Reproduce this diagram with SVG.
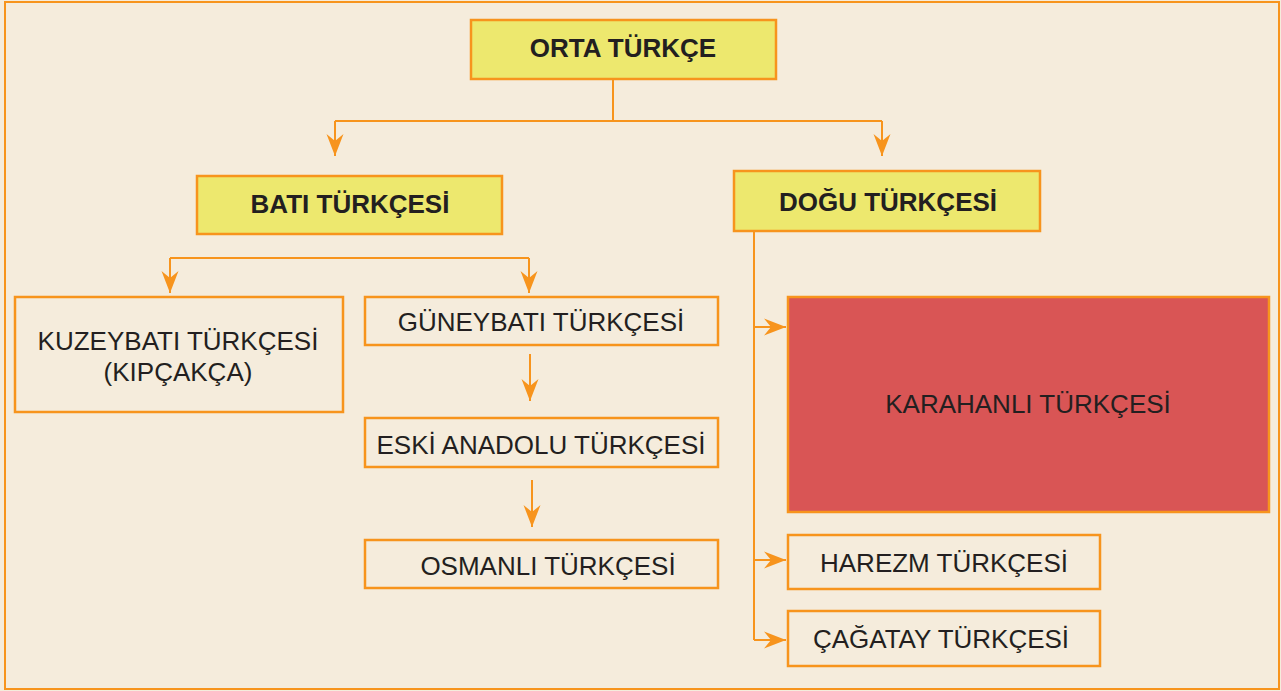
<svg xmlns="http://www.w3.org/2000/svg" width="1281" height="691" viewBox="0 0 1281 691">
<style>
.box{fill:none;stroke:#f7941d;stroke-width:2.5}
.yel{fill:#ede86e;stroke:#f7941d;stroke-width:2.5}
.red{fill:#d95555;stroke:#f7941d;stroke-width:2.5}
.con{fill:none;stroke:#f7941d;stroke-width:2}
text{font-family:"Liberation Sans",Arial,sans-serif;fill:#231f20;text-anchor:middle;font-size:26px}
.b{font-weight:bold}
</style>
<defs>
<marker id="ah" markerUnits="userSpaceOnUse" markerWidth="24" markerHeight="20" viewBox="-23 -10 24 20" refX="0" refY="0" orient="auto">
<path d="M0,0 L-22,-8.5 L-15,0 L-22,8.5 Z" fill="#f7941d"/>
</marker>
</defs>
<rect x="0" y="0" width="1281" height="691" fill="#f5ecdc"/>
<rect x="5" y="2" width="1274" height="687" fill="none" stroke="#f7941d" stroke-width="2"/>

<g id="connectors">
<path class="con" d="M613,79 V121"/>
<path class="con" d="M335,121 H882"/>
<path class="con" d="M335,121 V156" marker-end="url(#ah)"/>
<path class="con" d="M882,121 V156" marker-end="url(#ah)"/>
<path class="con" d="M170,258 H529"/>
<path class="con" d="M170,258 V293" marker-end="url(#ah)"/>
<path class="con" d="M529,258 V293" marker-end="url(#ah)"/>
<path class="con" d="M530,354 V401" marker-end="url(#ah)"/>
<path class="con" d="M532,480 V527" marker-end="url(#ah)"/>
<path class="con" d="M754,231 V640"/>
<path class="con" d="M754,327 H786" marker-end="url(#ah)"/>
<path class="con" d="M754,560 H786" marker-end="url(#ah)"/>
<path class="con" d="M754,640 H786" marker-end="url(#ah)"/>
</g>

<g id="orta"><rect class="yel" x="471" y="20" width="305" height="59"/><text class="b" x="623" y="57">ORTA TÜRKÇE</text></g>
<g id="bati"><rect class="yel" x="197" y="176" width="305" height="58"/><text class="b" x="350" y="213">BATI TÜRKÇESİ</text></g>
<g id="dogu"><rect class="yel" x="734" y="171" width="306" height="60"/><text class="b" x="888" y="211">DOĞU TÜRKÇESİ</text></g>
<g id="kuzeybati"><rect class="box" x="15" y="297" width="328" height="115"/><text x="178" y="350">KUZEYBATI TÜRKÇESİ</text><text x="178" y="381">(KIPÇAKÇA)</text></g>
<g id="guneybati"><rect class="box" x="365" y="297" width="353" height="48"/><text x="541" y="331">GÜNEYBATI TÜRKÇESİ</text></g>
<g id="eski"><rect class="box" x="365" y="418" width="353" height="49"/><text x="541" y="454">ESKİ ANADOLU TÜRKÇESİ</text></g>
<g id="osmanli"><rect class="box" x="365" y="540" width="353" height="48"/><text x="548" y="575">OSMANLI TÜRKÇESİ</text></g>
<g id="karahanli"><rect class="red" x="788" y="297" width="481" height="215"/><text x="1028" y="413">KARAHANLI TÜRKÇESİ</text></g>
<g id="harezm"><rect class="box" x="788" y="535" width="312" height="54"/><text x="944" y="572">HAREZM TÜRKÇESİ</text></g>
<g id="cagatay"><rect class="box" x="788" y="611" width="312" height="55"/><text x="941" y="648">ÇAĞATAY TÜRKÇESİ</text></g>
</svg>
